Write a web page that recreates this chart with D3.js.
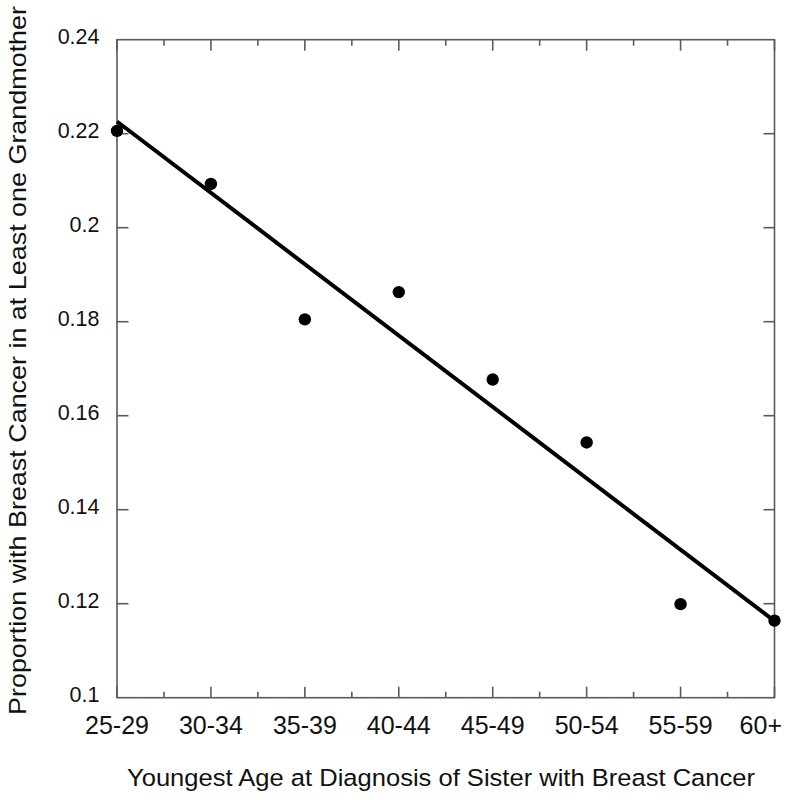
<!DOCTYPE html>
<html lang="en">
<head>
<meta charset="utf-8">
<title>Grandmother breast cancer by sister's age at diagnosis</title>
<script src="https://cdn.jsdelivr.net/npm/d3@7"></script>
<style>
  body { margin: 0; background: #fff; }
  text { font-family: "Liberation Sans", Arial, Helvetica, sans-serif; fill: #111; }
</style>
</head>
<body>
<script>
  var w = 790;
  var h = 800;

  // data
  var ageGroups = ["25-29", "30-34", "35-39", "40-44", "45-49", "50-54", "55-59", "60+"];
  var proportion = [0.2206, 0.2093, 0.1805, 0.1863, 0.1677, 0.1543, 0.1199, 0.1164];
  // fitted line, value at first and last group
  var fitEnds = [0.2226, 0.1163];
  var yTicks = [0.1, 0.12, 0.14, 0.16, 0.18, 0.2, 0.22, 0.24];

  var plotLeft = 117, plotRight = 774.5, plotTop = 39.7, plotBottom = 697.7;

  var svg = d3.select("body")
              .append("svg")
              .attr("width", w)
              .attr("height", h);

  var x = d3.scalePoint()
            .domain(ageGroups)
            .range([plotLeft, plotRight])
            .padding(0);

  var y = d3.scaleLinear()
            .domain([0.1, 0.24])
            .range([plotBottom, plotTop]);

  var axisColor = "#5a5a5a";

  // frame
  svg.append("rect")
     .attr("x", plotLeft)
     .attr("y", plotTop)
     .attr("width", plotRight - plotLeft)
     .attr("height", plotBottom - plotTop)
     .attr("fill", "none")
     .attr("stroke", axisColor)
     .attr("stroke-width", 1.6);

  // x ticks, major at groups, minor halfway between
  var xTickLines = [];
  ageGroups.forEach(function(d, i) {
    xTickLines.push({pos: x(d), len: 11});
    if (i < ageGroups.length - 1) {
      xTickLines.push({pos: (x(d) + x(ageGroups[i + 1])) / 2, len: 6});
    }
  });

  var ticks = svg.append("g").attr("class", "ticks")
                 .attr("stroke", axisColor)
                 .attr("stroke-width", 1.6);

  ticks.selectAll(".xb")
       .data(xTickLines)
       .enter()
       .append("line")
       .attr("x1", function(d) { return d.pos; })
       .attr("x2", function(d) { return d.pos; })
       .attr("y1", plotBottom)
       .attr("y2", function(d) { return plotBottom - d.len; });

  ticks.selectAll(".xt")
       .data(xTickLines)
       .enter()
       .append("line")
       .attr("x1", function(d) { return d.pos; })
       .attr("x2", function(d) { return d.pos; })
       .attr("y1", plotTop)
       .attr("y2", function(d) { return plotTop + d.len; });

  ticks.selectAll(".yl")
       .data(yTicks.slice(1, -1))
       .enter()
       .append("line")
       .attr("x1", plotLeft)
       .attr("x2", plotLeft + 11.5)
       .attr("y1", function(d) { return y(d); })
       .attr("y2", function(d) { return y(d); });

  ticks.selectAll(".yr")
       .data(yTicks.slice(1, -1))
       .enter()
       .append("line")
       .attr("x1", plotRight)
       .attr("x2", plotRight - 11)
       .attr("y1", function(d) { return y(d); })
       .attr("y2", function(d) { return y(d); });

  // tick labels (last one pulled in so it stays on the page)
  var last = ageGroups.length - 1;
  svg.append("g")
     .selectAll("text")
     .data(ageGroups)
     .enter()
     .append("text")
     .attr("x", function(d, i) { return i == last ? x(d) + 7.5 : x(d); })
     .attr("y", 734)
     .attr("text-anchor", function(d, i) { return i == last ? "end" : "middle"; })
     .attr("font-size", 25)
     .text(function(d) { return d; });

  svg.append("g")
     .selectAll("text")
     .data(yTicks)
     .enter()
     .append("text")
     .attr("x", 99.5)
     .attr("y", function(d) { return y(d) + 3.8; })
     .attr("text-anchor", "end")
     .attr("font-size", 21.5)
     .text(function(d) { return d3.format("")(+d.toFixed(2)); });

  // axis titles
  svg.append("text")
     .attr("x", 441)
     .attr("y", 786)
     .attr("text-anchor", "middle")
     .attr("font-size", 24.5)
     .attr("textLength", 628)
     .attr("lengthAdjust", "spacingAndGlyphs")
     .text("Youngest Age at Diagnosis of Sister with Breast Cancer");

  svg.append("text")
     .attr("transform", "translate(25.5,360.5) rotate(-90)")
     .attr("text-anchor", "middle")
     .attr("font-size", 24.5)
     .attr("textLength", 709)
     .attr("lengthAdjust", "spacingAndGlyphs")
     .text("Proportion with Breast Cancer in at Least one Grandmother");

  // fit line
  svg.append("line")
     .attr("x1", x(ageGroups[0]))
     .attr("y1", y(fitEnds[0]))
     .attr("x2", x(ageGroups[last]))
     .attr("y2", y(fitEnds[1]))
     .attr("stroke", "#000")
     .attr("stroke-width", 4);

  // points
  svg.append("g")
     .selectAll("circle")
     .data(proportion)
     .enter()
     .append("circle")
     .attr("cx", function(d, i) { return x(ageGroups[i]); })
     .attr("cy", function(d) { return y(d); })
     .attr("r", 6.2)
     .attr("fill", "#000");
</script>
</body>
</html>
